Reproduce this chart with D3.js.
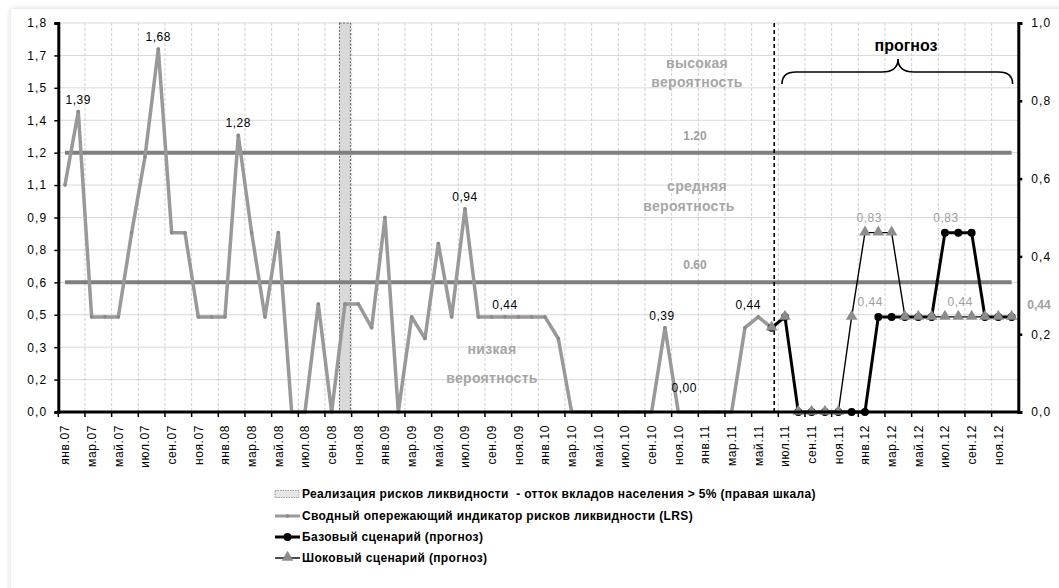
<!DOCTYPE html>
<html><head><meta charset="utf-8">
<script src="https://cdn.jsdelivr.net/npm/d3@7"></script>
<style>
html,body{margin:0;padding:0;background:#fff;}
svg{display:block;font-family:"Liberation Sans",Arial,sans-serif;}
</style></head>
<body><svg id="chart" width="1059" height="588"></svg>
<script>
// ---------- DATA ----------
const monthNames = ['янв','фев','мар','апр','май','июн','июл','авг','сен','окт','ноя','дек'];
const yearNames = ['07','08','09','10','11','12'];
const categories = yearNames.flatMap(y => monthNames.map(m => m + '.' + y));

// LRS indicator, янв.07 .. июн.11
const lrsValues = [1.05,1.39,0.44,0.44,0.44,0.83,1.18,1.68,0.83,0.83,0.44,0.44,
  0.44,1.28,0.83,0.44,0.83,0,0,0.5,0,0.5,0.5,0.39,
  0.9,0,0.44,0.34,0.78,0.44,0.94,0.44,0.44,0.44,0.44,0.44,
  0.44,0.34,0,0,0,0,0,0,0,0.39,0,0,
  0,0,0,0.39,0.44,0.39];
// forecasts, июн.11 .. дек.12
const forecastStart = 53;
const baseValues  = [0.39,0.44,0,0,0,0,0,0,0.44,0.44,0.44,0.44,0.44,0.83,0.83,0.83,0.44,0.44,0.44];
const shockValues = [0.39,0.44,0,0,0,0,0.44,0.83,0.83,0.83,0.44,0.44,0.44,0.44,0.44,0.44,0.44,0.44,0.44];
// realization of liquidity risk (right scale)
const eventCategory = ['окт.08'];
const eventValue = [1.0];
// thresholds
const thresholds = [1.2, 0.6];
const thresholdLabels = ['1.20', '0.60'];

const leftTicks = [0,0.15,0.3,0.45,0.6,0.75,0.9,1.05,1.2,1.35,1.5,1.65,1.8];
const leftTickLabels = ['0,0','0,2','0,3','0,5','0,6','0,8','0,9','1,1','1,2','1,4','1,5','1,7','1,8'];
const rightTicks = [0,0.2,0.4,0.6,0.8,1.0];
const rightTickLabels = ['0,0','0,2','0,4','0,6','0,8','1,0'];

const lrsLabels = [
  {i:1, text:'1,39'}, {i:7, text:'1,68'}, {i:13, text:'1,28'}, {i:30, text:'0,94'},
  {i:33, text:'0,44'}, {i:45, text:'0,39', dx:-3}, {i:46, text:'0,00', dx:6, dy:-12}, {i:52, text:'0,44', dx:-10}
];
const forecastLabels = [
  {i:61, v:0.83, text:'0,83', dx:-9}, {i:66, v:0.83, text:'0,83', dx:1},
  {i:61, v:0.44, text:'0,44', dx:-8}, {i:67, v:0.44, text:'0,44', dx:2}
];
const legendItems = [
  'Реализация рисков ликвидности  - отток вкладов населения > 5% (правая шкала)',
  'Сводный опережающий индикатор рисков ликвидности (LRS)',
  'Базовый сценарий (прогноз)',
  'Шоковый сценарий (прогноз)'
];

// ---------- LAYOUT ----------
const svg = d3.select('#chart');
const L = 58.3, R = 1018.3, T = 23, B = 412;

// frame shadow
const defs = svg.append('defs');
const f = defs.append('filter').attr('id','sh').attr('x','-5%').attr('y','-5%').attr('width','110%').attr('height','110%');
f.append('feGaussianBlur').attr('in','SourceAlpha').attr('stdDeviation',3);
f.append('feOffset').attr('dx',0).attr('dy',0).attr('result','b');
f.append('feComponentTransfer').append('feFuncA').attr('type','linear').attr('slope',0.18);
const fm = f.append('feMerge'); fm.append('feMergeNode'); fm.append('feMergeNode').attr('in','SourceGraphic');
svg.append('rect').attr('x',11).attr('y',9).attr('width',1070).attr('height',600)
  .attr('fill','#fff').attr('filter','url(#sh)');

const x = d3.scaleBand().domain(categories).range([L, R]).padding(0);
const bw = x.bandwidth();
const cx = i => x(categories[i]) + bw/2;
const yL = d3.scaleLinear().domain([0,1.8]).range([B,T]);
const yR = d3.scaleLinear().domain([0,1.0]).range([B,T]);

// gridlines
svg.append('g').selectAll('line').data(leftTicks).join('line')
  .attr('x1',L).attr('x2',R).attr('y1',d=>yL(d)).attr('y2',d=>yL(d))
  .attr('stroke','#d9d9d9').attr('stroke-width',1);
const tickCats = categories.filter((c,i)=> i%2===0 && i>0);
svg.append('g').selectAll('line').data(tickCats).join('line')
  .attr('x1',d=>x(d)).attr('x2',d=>x(d)).attr('y1',T).attr('y2',B)
  .attr('stroke','#cfcfcf').attr('stroke-width',1).attr('stroke-dasharray','3,2');

// event bar
svg.append('g').selectAll('rect').data(eventCategory).join('rect')
  .attr('x',d=>x(d)+1.2).attr('width',bw-2.4)
  .attr('y',(d,i)=>yR(eventValue[i])).attr('height',(d,i)=>B-yR(eventValue[i]))
  .attr('fill','#d9d9d9').attr('stroke','#404040').attr('stroke-width',0.8).attr('stroke-dasharray','2,1.5');

// threshold lines
const first = 0, last = categories.length-1;
thresholds.forEach((t,k)=>{
  svg.append('line').attr('x1',cx(first)).attr('x2',cx(last)).attr('y1',yL(t)).attr('y2',yL(t))
    .attr('stroke','#7f7f7f').attr('stroke-width',4);
  svg.append('text').attr('x',695).attr('y',yL(t)-13).attr('text-anchor','middle')
    .attr('font-size',12).attr('font-weight','bold').attr('fill','#a0a0a0').text(thresholdLabels[k]);
});

// zone texts
const zoneTexts = [
  {t:'высокая', x:697, y:68}, {t:'вероятность', x:697, y:87},
  {t:'средняя', x:697, y:191}, {t:'вероятность', x:689, y:211},
  {t:'низкая', x:492, y:354}, {t:'вероятность', x:492, y:383}
];
svg.append('g').selectAll('text').data(zoneTexts).join('text')
  .attr('x',d=>d.x).attr('y',d=>d.y).attr('text-anchor','middle')
  .attr('font-size',14).attr('font-weight','bold').attr('fill','#a6a6a6').attr('letter-spacing',0.3).text(d=>d.t);

// LRS line
const lineL = d3.line().x(d=>cx(d.i)).y(d=>yL(d.v));
const lrsPts = lrsValues.map((v,i)=>({i,v}));
svg.append('path').datum(lrsPts).attr('d',lineL).attr('fill','none')
  .attr('stroke','#999999').attr('stroke-width',3.5).attr('stroke-linejoin','round');
svg.append('g').selectAll('circle').data(lrsPts).join('circle')
  .attr('cx',d=>cx(d.i)).attr('cy',d=>yL(d.v)).attr('r',1.8).attr('fill','#8a8a8a');

// forecast separator
svg.append('line').attr('x1',cx(forecastStart)+2.6).attr('x2',cx(forecastStart)+2.6).attr('y1',T).attr('y2',B)
  .attr('stroke','#000').attr('stroke-width',1.6).attr('stroke-dasharray','4,3');

// base scenario
const basePts = baseValues.map((v,k)=>({i:forecastStart+k, v}));
svg.append('path').datum(basePts).attr('d',lineL).attr('fill','none')
  .attr('stroke','#000').attr('stroke-width',3).attr('stroke-linejoin','round');
svg.append('g').selectAll('circle').data(basePts).join('circle')
  .attr('cx',d=>cx(d.i)).attr('cy',d=>yL(d.v)).attr('r',4).attr('fill','#000');

// shock scenario
const shockPts = shockValues.map((v,k)=>({i:forecastStart+k, v}));
svg.append('path').datum(shockPts).attr('d',lineL).attr('fill','none')
  .attr('stroke','#000').attr('stroke-width',1.4).attr('stroke-linejoin','round');
const tri = d3.symbol().type(d3.symbolTriangle).size(58);
svg.append('g').selectAll('path').data(shockPts).join('path')
  .attr('d',tri).attr('transform',d=>`translate(${cx(d.i)},${yL(d.v)-0.5})`).attr('fill','#8c8c8c');

// axes
const axL = svg.append('g').attr('transform',`translate(${L},0)`)
  .call(d3.axisLeft(yL).tickValues(leftTicks).tickFormat((d,i)=>leftTickLabels[i]).tickSize(4).tickPadding(7));
axL.select('.domain').attr('stroke','#000').attr('stroke-width',3);
axL.selectAll('.tick line').attr('stroke','#000').attr('stroke-width',1.5);
axL.selectAll('text').attr('font-size',12).attr('letter-spacing',1.1).attr('fill','#000').attr('font-family','"Liberation Sans",Arial,sans-serif');

const axR = svg.append('g').attr('transform',`translate(${R},0)`)
  .call(d3.axisRight(yR).tickValues(rightTicks).tickFormat((d,i)=>rightTickLabels[i]).tickSize(4).tickPadding(9));
axR.select('.domain').attr('stroke','#000').attr('stroke-width',3);
axR.selectAll('.tick line').attr('stroke','#000').attr('stroke-width',2.5);
axR.selectAll('text').attr('font-size',12).attr('letter-spacing',1.1).attr('fill','#000').attr('font-family','"Liberation Sans",Arial,sans-serif');

// bottom axis line & boundary ticks
svg.append('line').attr('x1',L-1.5).attr('x2',R+1.5).attr('y1',B).attr('y2',B).attr('stroke','#000').attr('stroke-width',3);
svg.append('g').selectAll('line').data(categories.filter((c,i)=>i%2===0)).join('line')
  .attr('x1',d=>x(d)).attr('x2',d=>x(d)).attr('y1',B).attr('y2',B+5).attr('stroke','#000').attr('stroke-width',1.5);
const labelCats = categories.filter((c,i)=>i%2===0);
svg.append('g').selectAll('text').data(labelCats).join('text')
  .attr('transform',d=>`translate(${x(d)+bw/2+4.5},${B+13}) rotate(-90)`)
  .attr('text-anchor','end').attr('font-size',12).attr('letter-spacing',0.6).attr('fill','#000').text(d=>d);

// data labels
svg.append('g').selectAll('text').data(lrsLabels).join('text')
  .attr('x',d=>cx(d.i)+(d.dx||0)).attr('y',d=>yL(lrsValues[d.i])-8+(d.dy||0))
  .attr('text-anchor','middle').attr('font-size',12).attr('letter-spacing',0.5).attr('fill','#000').text(d=>d.text);
svg.append('g').selectAll('text').data(forecastLabels).join('text')
  .attr('x',d=>cx(d.i)+(d.dx||0)).attr('y',d=>yL(d.v)-11)
  .attr('text-anchor','middle').attr('font-size',12).attr('letter-spacing',0.5).attr('fill','#a0a0a0').text(d=>d.text);
svg.append('text').attr('x',R+9).attr('y',yL(0.44)-8).attr('font-size',12).attr('font-weight','bold')
  .attr('fill','#a0a0a0').text('0,44');

// forecast brace
const bx0 = cx(54)-3, bx1 = cx(last)+1, bm = 898, by = 72, bt = 59, bb = 84;
svg.append('path').attr('d',
  `M${bx0},${bb} Q${bx0},${by} ${bx0+14},${by} L${bm-16},${by} Q${bm},${by} ${bm},${bt} Q${bm},${by} ${bm+16},${by} L${bx1-14},${by} Q${bx1},${by} ${bx1},${bb}`)
  .attr('fill','none').attr('stroke','#000').attr('stroke-width',1.6);
svg.append('text').attr('x',906).attr('y',51).attr('text-anchor','middle')
  .attr('font-size',16).attr('font-weight','bold').attr('fill','#000').text('прогноз');

// legend
const lg = svg.append('g').attr('transform','translate(275,0)');
const ly = [494, 516, 537, 558];
legendItems.forEach((t,k)=>{
  const g = lg.append('g').attr('transform',`translate(0,${ly[k]})`);
  if(k===0){
    g.append('rect').attr('x',0).attr('y',-3.5).attr('width',24).attr('height',7)
      .attr('fill','#e6e6e6').attr('stroke','#888').attr('stroke-width',0.8).attr('stroke-dasharray','1.5,1');
  } else if(k===1){
    g.append('line').attr('x1',0).attr('x2',25).attr('y1',0).attr('y2',0).attr('stroke','#999').attr('stroke-width',3);
    g.append('circle').attr('cx',12.5).attr('cy',0).attr('r',1.8).attr('fill','#8a8a8a');
  } else if(k===2){
    g.append('line').attr('x1',0).attr('x2',25).attr('y1',0).attr('y2',0).attr('stroke','#000').attr('stroke-width',3);
    g.append('circle').attr('cx',12.5).attr('cy',0).attr('r',4).attr('fill','#000');
  } else {
    g.append('line').attr('x1',0).attr('x2',25).attr('y1',0).attr('y2',0).attr('stroke','#000').attr('stroke-width',1.4);
    g.append('path').attr('d',tri).attr('transform','translate(12.5,-0.5)').attr('fill','#8c8c8c');
  }
  g.append('text').attr('x',27).attr('y',4).attr('font-size',12).attr('letter-spacing',0.35).attr('font-weight','bold')
    .attr('fill','#000').style('white-space','pre').text(t);
});
</script></body></html>
